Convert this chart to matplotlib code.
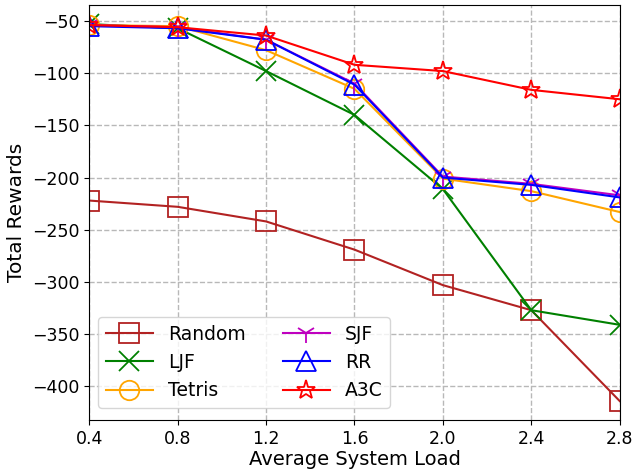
import matplotlib
matplotlib.use('Agg')
import matplotlib.pyplot as plt

# Data
loads = [0.4, 0.8, 1.2, 1.6, 2.0, 2.4, 2.8]
random_rw = [-222, -228, -242, -269, -303, -327, -414]
ljf_rw = [-53, -57, -98, -140, -211, -327, -341]
tetris_rw = [-54, -55, -78, -115, -201, -213, -233]
sjf_rw = [-54, -56, -68, -110, -199, -206, -217]
rr_rw = [-55, -57, -68, -111, -200, -207, -219]
a3c_rw = [-54, -56, -64, -92, -98, -116, -125]

labels = ['Random', 'LJF', 'Tetris', 'SJF', 'RR', 'A3C']
series = [random_rw, ljf_rw, tetris_rw, sjf_rw, rr_rw, a3c_rw]
colors = ['#b22222', 'green', 'orange', 'm', 'blue', 'red']
markers = ['s', 'x', 'o', '1', '^', '*']

fig = plt.figure(figsize=(6.33, 4.75), dpi=100)
ax = fig.add_axes([0.141, 0.116, 0.838, 0.873])

for ys, lab, c, mk in zip(series, labels, colors, markers):
    ax.plot(loads, ys, color=c, marker=mk, markersize=14, markerfacecolor='none',
            markeredgecolor=c, markeredgewidth=1.3, linewidth=1.5, label=lab)

ax.set_xlim(0.4, 2.8)
ax.set_xticks(loads)
ax.set_xticklabels(['%.1f' % v for v in loads])
ax.tick_params(labelsize=12.5)
ax.grid(True, linestyle='--', color='#b8b8b8', linewidth=1)
ax.set_xlabel('Average System Load', fontsize=14, labelpad=2)
ax.set_ylabel('Total Rewards', fontsize=14.5)
ax.legend(loc='lower left', bbox_to_anchor=(0.01, 0.02), ncol=2, fontsize=13.5,
          columnspacing=2.0, handlelength=2.5, borderaxespad=0.2)

fig.savefig('out.png', dpi=100)
